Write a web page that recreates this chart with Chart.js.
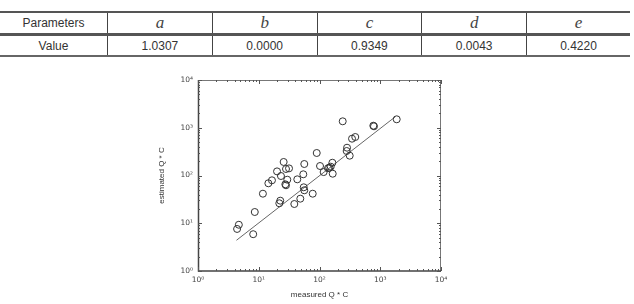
<!DOCTYPE html>
<html>
<head>
    <title>Parameters and scatter</title>
    <script src="https://cdn.jsdelivr.net/npm/chart.js"></script>
    <style>
        body { margin: 0; background: #fff; width: 634px; height: 304px; position: relative; overflow: hidden; }
        table.params {
            position: absolute; left: 0; top: 11px; width: 630px;
            border-collapse: collapse; font-family: "Liberation Sans", Arial, sans-serif;
            font-size: 12px; color: #333;
        }
        table.params td { text-align: center; padding: 0; border-left: 1px solid #444; }
        table.params td:first-child { border-left: none; }
        table.params tr.head td { height: 19px; border-top: 2px solid #555; border-bottom: 3px solid #555; }
        table.params tr.vals td { height: 19px; border-bottom: 2px solid #666; }
        table.params .sym { font-family: "Liberation Serif", "DejaVu Serif", serif; font-style: italic; font-size: 17px; color: #444; }
        #chart { position: absolute; left: 0; top: 60px; }
    </style>
</head>
<body>
    <table class="params">
        <tr class="head">
            <td style="width:107px">Parameters</td>
            <td class="sym">a</td><td class="sym">b</td><td class="sym">c</td><td class="sym">d</td><td class="sym">e</td>
        </tr>
        <tr class="vals">
            <td>Value</td><td>1.0307</td><td>0.0000</td><td>0.9349</td><td>0.0043</td><td>0.4220</td>
        </tr>
    </table>
    <canvas id="chart" width="634" height="244"></canvas>

    <script>
        // measured vs estimated Q*C
        const measured = [4.4, 4.7, 8.1, 8.6, 11.7, 14.4, 16.5, 20.0, 25.7, 28.1, 31.5, 23.2, 29.5, 27.4, 28.1,
            22.6, 21.8, 38.5, 43.1, 48.3, 54.1, 56.2, 55.0, 56.2, 77.3, 241, 769, 789, 1866, 90, 102, 117,
            138, 145, 153, 163, 165, 284, 280, 314, 343, 388];
        const estimated = [7.6, 9.3, 5.9, 17.2, 41.6, 68.7, 79.3, 122, 192, 137, 141, 97.6, 81.7, 65.4, 62.4,
            29.7, 26.2, 25.3, 83.2, 32.7, 106, 174, 56.6, 49.0, 41.6, 1365, 1104, 1072, 1503, 296, 158, 118,
            142, 146, 153, 185, 109, 382, 326, 260, 590, 640];
        // fitted line end points
        const fitX = [4.3, 1770];
        const fitY = [4.4, 1700];
        const decades = [1, 10, 100, 1000, 10000];
        const supers = ['\u2070', '\u00b9', '\u00b2', '\u00b3', '\u2074'];

        function logTicks() {
            const t = [];
            for (let i = 0; i < decades.length; i++) {
                t.push({ value: decades[i] });
                if (i < decades.length - 1) {
                    for (let k = 2; k <= 9; k++) t.push({ value: decades[i] * k });
                }
            }
            return t;
        }

        function decadeLabel(v) {
            const e = Math.round(Math.log10(v));
            if (Math.abs(Math.log10(v) - e) > 1e-9) return '';
            return '10' + supers[e];
        }

        // box round the plot with ticks pointing inwards, matlab style
        const boxTicks = {
            id: 'boxTicks',
            afterDatasetsDraw(chart) {
                const { ctx, chartArea: a, scales } = chart;
                ctx.save();
                ctx.lineWidth = 1;
                ctx.strokeStyle = '#777';
                ctx.beginPath();
                ctx.moveTo(a.left, a.top + 0.5); ctx.lineTo(a.right, a.top + 0.5);
                ctx.moveTo(a.right - 0.5, a.top); ctx.lineTo(a.right - 0.5, a.bottom);
                ctx.stroke();
                ctx.strokeStyle = '#444';
                ctx.lineWidth = 1.5;
                ctx.beginPath();
                ctx.moveTo(a.left + 0.5, a.top); ctx.lineTo(a.left + 0.5, a.bottom);
                ctx.lineTo(a.right, a.bottom);
                ctx.stroke();

                ctx.lineWidth = 1;
                ctx.strokeStyle = '#555';
                ctx.beginPath();
                scales.x.ticks.forEach(t => {
                    const px = Math.round(scales.x.getPixelForValue(t.value)) + 0.5;
                    const len = decadeLabel(t.value) ? 4 : 2;
                    ctx.moveTo(px, a.bottom); ctx.lineTo(px, a.bottom - len);
                    ctx.moveTo(px, a.top); ctx.lineTo(px, a.top + len);
                });
                scales.y.ticks.forEach(t => {
                    const py = Math.round(scales.y.getPixelForValue(t.value)) + 0.5;
                    const len = decadeLabel(t.value) ? 4 : 2;
                    ctx.moveTo(a.left, py); ctx.lineTo(a.left + len, py);
                    ctx.moveTo(a.right, py); ctx.lineTo(a.right - len, py);
                });
                ctx.stroke();
                ctx.restore();
            }
        };

        const font = { family: 'Arial, "Liberation Sans", "DejaVu Sans", sans-serif', size: 8 };
        const tickFont = { family: '"DejaVu Sans", sans-serif', size: 7.5 };

        new Chart(document.getElementById('chart').getContext('2d'), {
            type: 'scatter',
            data: {
                datasets: [{
                    label: 'data',
                    data: measured.map((m, i) => ({ x: m, y: estimated[i] })),
                    pointStyle: 'circle',
                    pointRadius: 3.5,
                    borderColor: '#333',
                    borderWidth: 1,
                    backgroundColor: 'rgba(0,0,0,0)'
                }, {
                    label: 'fit',
                    type: 'line',
                    data: fitX.map((x, i) => ({ x: x, y: fitY[i] })),
                    showLine: true,
                    pointRadius: 0,
                    borderColor: '#666',
                    borderWidth: 1
                }]
            },
            options: {
                responsive: false,
                animation: false,
                layout: { padding: { left: 157, right: 193, top: 20, bottom: 0 } },
                plugins: { legend: { display: false }, tooltip: { enabled: false } },
                scales: {
                    x: {
                        type: 'logarithmic', min: 1, max: 10000,
                        afterBuildTicks: s => { s.ticks = logTicks(); },
                        afterFit: s => { s.height = 33; },
                        grid: { display: false, drawTicks: false },
                        border: { display: false },
                        ticks: { autoSkip: false, maxRotation: 0, padding: 5, color: '#444', font: tickFont, callback: v => decadeLabel(v) },
                        title: { display: true, text: 'measured Q * C', color: '#333', font: font, padding: { top: 0, bottom: 4 } }
                    },
                    y: {
                        type: 'logarithmic', min: 1, max: 10000,
                        afterBuildTicks: s => { s.ticks = logTicks(); },
                        afterFit: s => { s.width = 41; },
                        grid: { display: false, drawTicks: false },
                        border: { display: false },
                        ticks: { autoSkip: false, padding: 5, color: '#444', font: tickFont, callback: v => decadeLabel(v) },
                        title: { display: true, text: 'estimated Q * C', color: '#333', font: font, padding: { top: 0, bottom: 0 } }
                    }
                }
            },
            plugins: [boxTicks]
        });
    </script>
</body>
</html>
